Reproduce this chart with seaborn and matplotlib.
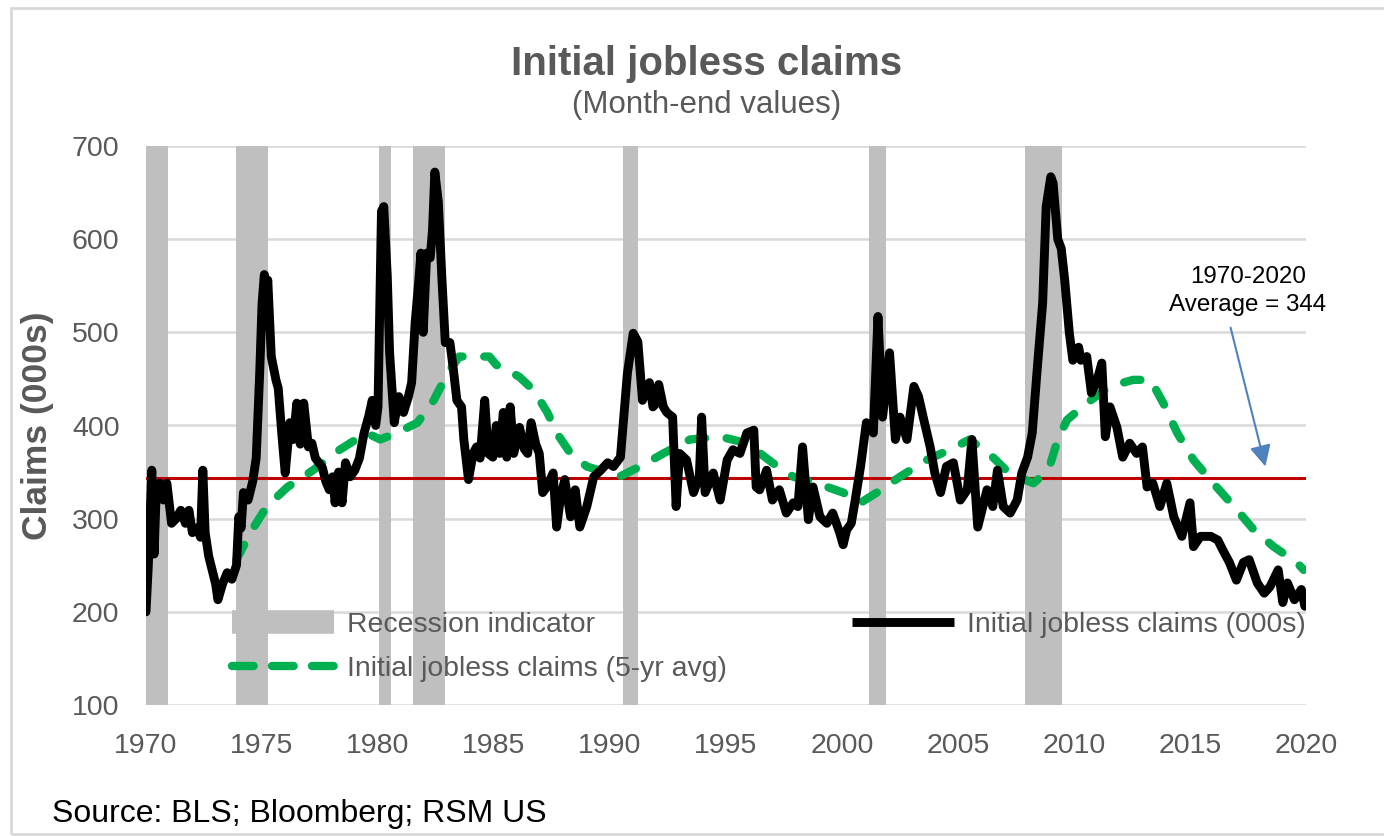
import numpy as np
import pandas as pd
import matplotlib
matplotlib.use("Agg")
import matplotlib.pyplot as plt
from matplotlib.lines import Line2D
from matplotlib.patches import Rectangle
import seaborn as sns

# ---------------- data ----------------
claims_t = [1970.00, 1970.10, 1970.25, 1970.35, 1970.45, 1970.6, 1970.75, 1970.9, 1971.1, 1971.3,
            1971.5, 1971.7, 1971.85, 1972.0, 1972.2, 1972.35, 1972.45, 1972.55, 1972.7, 1972.9,
            1973.0, 1973.1, 1973.3, 1973.5, 1973.7, 1973.9, 1974.0, 1974.1, 1974.2, 1974.4,
            1974.6, 1974.75, 1974.9, 1975.0, 1975.1, 1975.2, 1975.25, 1975.4, 1975.6, 1975.7,
            1975.85, 1976.0, 1976.2, 1976.35, 1976.5, 1976.65, 1976.8, 1977.0, 1977.15, 1977.3,
            1977.45, 1977.6, 1977.75, 1977.9, 1978.05, 1978.15, 1978.3, 1978.45, 1978.6, 1978.8,
            1979.0, 1979.2, 1979.4, 1979.6, 1979.75, 1979.9, 1980.0, 1980.15, 1980.25, 1980.4,
            1980.5, 1980.7, 1980.9, 1981.1, 1981.3, 1981.45, 1981.6, 1981.75, 1981.85, 1981.95,
            1982.1, 1982.25, 1982.35, 1982.45, 1982.6, 1982.75, 1982.9, 1983.1, 1983.25, 1983.4,
            1983.6, 1983.7, 1983.9, 1984.1, 1984.25, 1984.4, 1984.6, 1984.75, 1984.95, 1985.1,
            1985.25, 1985.4, 1985.55, 1985.7, 1985.85, 1986.1, 1986.3, 1986.45, 1986.6, 1986.8,
            1986.95, 1987.1, 1987.3, 1987.55, 1987.7, 1987.85, 1988.05, 1988.3, 1988.5, 1988.7,
            1989.0, 1989.3, 1989.6, 1989.9, 1990.15, 1990.45, 1990.75, 1991.0, 1991.2, 1991.4,
            1991.55, 1991.7, 1991.85, 1992.0, 1992.1, 1992.3, 1992.45, 1992.7, 1992.85, 1993.0,
            1993.3, 1993.6, 1993.85, 1993.95, 1994.1, 1994.45, 1994.75, 1995.05, 1995.3, 1995.6,
            1995.9, 1996.2, 1996.3, 1996.45, 1996.75, 1997.0, 1997.3, 1997.6, 1997.9, 1998.1,
            1998.3, 1998.55, 1998.75, 1999.05, 1999.35, 1999.6, 1999.9, 2000.05, 2000.2, 2000.4,
            2000.55, 2000.8, 2001.05, 2001.35, 2001.55, 2001.75, 2002.05, 2002.3, 2002.5, 2002.8,
            2003.1, 2003.3, 2003.5, 2003.8, 2004.0, 2004.25, 2004.5, 2004.8, 2005.1, 2005.4,
            2005.6, 2005.85, 2006.25, 2006.5, 2006.7, 2006.95, 2007.25, 2007.55, 2007.75, 2008.0,
            2008.2, 2008.4, 2008.65, 2008.8, 2009.0, 2009.1, 2009.3, 2009.45, 2009.6, 2009.8,
            2009.95, 2010.2, 2010.3, 2010.55, 2010.75, 2011.0, 2011.2, 2011.35, 2011.55, 2011.85,
            2012.1, 2012.4, 2012.7, 2012.95, 2013.15, 2013.4, 2013.7, 2014.0, 2014.3, 2014.65,
            2015.0, 2015.15, 2015.45, 2015.9, 2016.2, 2016.4, 2016.7, 2017.0, 2017.3, 2017.55,
            2017.9, 2018.2, 2018.45, 2018.8, 2019.0, 2019.2, 2019.5, 2019.8, 2019.95]
claims_v = [200, 250, 352, 262, 335, 338, 320, 338, 295, 300,
            309, 295, 309, 285, 290, 280, 352, 285, 260, 240,
            230, 213, 230, 242, 235, 250, 302, 290, 328, 320,
            340, 365, 456, 530, 562, 545, 556, 474, 449, 440,
            392, 349, 403, 385, 424, 380, 424, 377, 381, 365,
            360, 355, 340, 331, 345, 317, 350, 317, 360, 345,
            352, 365, 392, 410, 427, 400, 420, 630, 635, 560,
            478, 403, 431, 414, 430, 446, 510, 553, 585, 500,
            585, 580, 610, 672, 640, 560, 489, 489, 460, 427,
            420, 385, 342, 370, 377, 365, 427, 370, 366, 400,
            370, 414, 366, 420, 370, 398, 375, 370, 403, 380,
            370, 328, 335, 349, 291, 320, 342, 302, 331, 291,
            313, 345, 352, 360, 356, 366, 456, 499, 490, 427,
            440, 446, 420, 424, 444, 420, 414, 409, 313, 370,
            363, 328, 345, 409, 328, 349, 320, 363, 374, 370,
            392, 395, 334, 331, 352, 320, 331, 306, 317, 313,
            377, 299, 334, 302, 295, 306, 285, 272, 288, 295,
            317, 356, 403, 392, 517, 409, 478, 385, 409, 385,
            442, 431, 409, 377, 349, 328, 356, 360, 320, 331,
            385, 291, 331, 313, 352, 313, 306, 320, 349, 366,
            392, 456, 532, 635, 667, 660, 600, 590, 556, 499,
            470, 484, 470, 474, 435, 449, 467, 388, 420, 398,
            366, 381, 370, 377, 334, 338, 313, 338, 302, 281,
            317, 270, 281, 281, 277, 267, 253, 234, 253, 256,
            231, 220, 227, 245, 210, 231, 213, 224, 206]

avg_t = [1973.9, 1974.5, 1975.2, 1976.1, 1977.2, 1978.35, 1979.5, 1980.1, 1980.8, 1981.7,
         1982.4, 1983.0, 1983.5, 1984.8, 1985.1, 1985.55, 1986.1, 1986.7, 1987.3, 1987.7,
         1988.3, 1989.0, 1989.9, 1990.4, 1991.3, 1992.3, 1993.45, 1994.75, 1995.9, 1997.0,
         1997.9, 1998.9, 2000.05, 2000.8, 2001.5, 2002.5, 2003.65, 2004.65, 2005.5, 2006.5,
         2007.2, 2008.25, 2008.9, 2009.3, 2009.7, 2010.55, 2011.55, 2012.55, 2013.3, 2013.85,
         2014.45, 2015.15, 2016.0, 2016.9, 2017.75, 2018.6, 2019.6, 2019.9]
avg_v = [256, 285, 313, 334, 352, 374, 392, 385, 392, 403,
         427, 456, 474, 474, 465, 460, 452, 438, 414, 392,
         370, 356, 349, 345, 356, 370, 385, 388, 381, 360,
         345, 338, 328, 317, 328, 345, 363, 374, 385, 366,
         349, 338, 352, 385, 406, 424, 442, 449, 449, 424,
         392, 363, 338, 313, 288, 270, 253, 245]

recession_start = [1970.0, 1973.9, 1980.05, 1981.5, 1990.55, 2001.15, 2007.9]
recession_end = [1970.95, 1975.25, 1980.55, 1982.9, 1991.2, 2001.9, 2009.5]

average_value = 344
x_ticks = [1970, 1975, 1980, 1985, 1990, 1995, 2000, 2005, 2010, 2015, 2020]
y_ticks = [100, 200, 300, 400, 500, 600, 700]

title = "Initial jobless claims"
subtitle = "(Month-end values)"
ylabel = "Claims (000s)"
source = "Source: BLS; Bloomberg; RSM US"
labels = ["Recession indicator", "Initial jobless claims (5-yr avg)", "Initial jobless claims (000s)"]
note_lines = ["1970-2020", "Average = 344"]

# ---------------- style ----------------
sns.set_theme(style="white")
plt.rcParams["font.family"] = ["Liberation Sans", "DejaVu Sans"]

gray_txt = "#595959"
W, H = 1384, 836
fig = plt.figure(figsize=(W / 100, H / 100), dpi=100)
fig.patch.set_facecolor("white")

ax = fig.add_axes([146 / W, (H - 705) / H, (1306 - 146) / W, (705 - 146) / H])
ax.set_facecolor("white")

for s, e in zip(recession_start, recession_end):
    ax.axvspan(s, e, color="#bfbfbf", lw=0, zorder=1)

ax.axhline(average_value, color="#c00000", lw=2.2, zorder=2)

df_avg = pd.DataFrame({"year": avg_t, "value": avg_v})
df_cl = pd.DataFrame({"year": claims_t, "value": claims_v})
sns.lineplot(data=df_avg, x="year", y="value", ax=ax, color="#00b050", lw=6.0,
             estimator=None, sort=False, zorder=3)
ax.lines[-1].set_dashes((2.0, 2.6))
ax.lines[-1].set_dash_capstyle("round")
sns.lineplot(data=df_cl, x="year", y="value", ax=ax, color="black", lw=6.4,
             estimator=None, sort=False, zorder=4)
ax.lines[-1].set_solid_joinstyle("round")

ax.set_xlim(1970, 2020)
ax.set_ylim(100, 700)
ax.set_xticks(x_ticks)
ax.set_yticks(y_ticks)
ax.yaxis.grid(True, color="#d9d9d9", lw=1.8, zorder=0)
ax.xaxis.grid(False)
ax.set_axisbelow(True)
for sp in ax.spines.values():
    sp.set_visible(False)
ax.tick_params(axis="both", length=0, labelsize=20.5, colors=gray_txt)
ax.tick_params(axis="x", pad=20)
ax.tick_params(axis="y", pad=19)
ax.set_xlabel("")
ax.set_ylabel("")

fig.text(38 / W, 1 - 426 / H, ylabel, rotation=90, ha="center", va="center",
         fontsize=25.5, fontweight="bold", color=gray_txt)
fig.text(707 / W, 1 - 64 / H, title, ha="center", va="center",
         fontsize=29, fontweight="bold", color=gray_txt)
fig.text(707 / W, 1 - 105 / H, subtitle, ha="center", va="center",
         fontsize=22.5, color=gray_txt)
fig.text(52 / W, 1 - 814 / H, source, ha="left", va="center",
         fontsize=23, color="black")

# annotation
ax.text(2017.5, 559, note_lines[0], ha="center", va="center", fontsize=17.4, color="black")
ax.text(2017.5, 529, note_lines[1], ha="center", va="center", fontsize=17.4, color="black")
ax.annotate("", xy=(2018.25, 356), xytext=(2016.75, 505),
            arrowprops=dict(arrowstyle="-|>", color="#4f81bd", lw=1.5, mutation_scale=32,
                            shrinkA=0, shrinkB=0))

# legend
h_rec = Line2D([], [], color="#bfbfbf", lw=17, solid_capstyle="butt")
h_avg = Line2D([], [], color="#00b050", lw=6.0, dashes=(2.6, 2.2), dash_capstyle="round")
h_cl = Line2D([], [], color="black", lw=6.4, solid_capstyle="butt")
leg = ax.legend([h_rec, h_avg, h_cl], labels, ncol=2, frameon=False,
                loc="upper left", bbox_to_anchor=(232 / W, 1 - 612 / H),
                bbox_transform=fig.transFigure, borderaxespad=0, borderpad=0,
                fontsize=20.4, handlelength=3.6, handletextpad=0.46,
                columnspacing=4.4, labelspacing=0.62)
for t in leg.get_texts():
    t.set_color(gray_txt)

fig.patches.append(Rectangle((11 / W, 2 / H), 1.2, (834 - 8) / H, fill=False,
                             edgecolor="#d9d9d9", lw=2, transform=fig.transFigure))

fig.savefig("out.png", dpi=100)
